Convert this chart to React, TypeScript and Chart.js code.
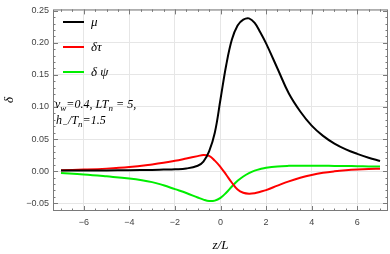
import React, { useEffect, useRef } from 'react';
import { Chart, registerables } from 'chart.js';
Chart.register(...registerables);

const zValues = [-7, -6, -5, -4, -3, -2.5, -2, -1.5, -1, -0.75, -0.5, -0.25, 0, 0.25, 0.5, 0.75, 1, 1.25, 1.5, 1.75, 2, 2.5, 3, 3.5, 4, 4.5, 5, 5.5, 6, 6.5, 7];
const muValues = [0.001, 0.001, 0.0012, 0.0015, 0.002, 0.0025, 0.003, 0.0042, 0.0085, 0.015, 0.031, 0.06, 0.112, 0.165, 0.205, 0.227, 0.236, 0.238, 0.231, 0.216, 0.199, 0.16, 0.121, 0.093, 0.071, 0.055, 0.043, 0.034, 0.027, 0.021, 0.016];
const tauValues = [0.0015, 0.0025, 0.004, 0.0065, 0.0105, 0.013, 0.0162, 0.0198, 0.0235, 0.0252, 0.0238, 0.0165, 0.0065, -0.0055, -0.018, -0.0285, -0.0335, -0.035, -0.0342, -0.032, -0.0295, -0.0225, -0.0158, -0.0102, -0.0058, -0.0025, -0.0002, 0.0015, 0.0027, 0.0035, 0.004];
const psiValues = [-0.003, -0.005, -0.008, -0.0115, -0.017, -0.022, -0.028, -0.034, -0.041, -0.0443, -0.0465, -0.0458, -0.0415, -0.0335, -0.0238, -0.015, -0.0082, -0.003, 0.0008, 0.0035, 0.0055, 0.0075, 0.0083, 0.0085, 0.0085, 0.0084, 0.0082, 0.008, 0.0078, 0.0075, 0.0073];

const seriesLabels = ['μ', 'δτ', 'δ ψ'];
const seriesColors = ['#000000', '#ff0000', '#00ee00'];

const xTickValues = [-6, -4, -2, 0, 2, 4, 6];
const yTickValues = [-0.05, 0, 0.05, 0.1, 0.15, 0.2, 0.25];
const xRange = [-7.35, 7.35];
const yRange = [-0.062, 0.252];
const xMinorStep = 0.5;
const yMinorStep = 0.01;

const SERIF_IT = 'italic 13px "Liberation Serif", "DejaVu Serif", serif';

function drawSubText(ctx: CanvasRenderingContext2D, parts: [string, boolean][], x: number, y: number) {
  let cx = x;
  for (const [t, sub] of parts) {
    ctx.font = sub ? 'italic 9px "Liberation Serif", serif' : 'italic 12px "Liberation Serif", serif';
    ctx.fillText(t, cx, sub ? y + 3 : y);
    cx += ctx.measureText(t).width;
  }
}

const framePlugin = {
  id: 'framePlugin',
  afterDraw(chart: any) {
    const ctx: CanvasRenderingContext2D = chart.ctx;
    const { left, right, top, bottom } = chart.chartArea;
    const xs = chart.scales.x;
    const ys = chart.scales.y;
    ctx.save();
    ctx.strokeStyle = '#7a7a7a';
    ctx.lineWidth = 1;
    ctx.strokeRect(left + 0.5, top + 0.5, right - left - 1, bottom - top - 1);
    ctx.beginPath();
    const xStart = Math.ceil(xRange[0] / xMinorStep) * xMinorStep;
    for (let v = xStart; v <= xRange[1] + 1e-9; v += xMinorStep) {
      const isMajor = xTickValues.some((t) => Math.abs(t - v) < 1e-6);
      const len = isMajor ? 5 : 2.5;
      const px = Math.round(xs.getPixelForValue(v)) + 0.5;
      ctx.moveTo(px, bottom);
      ctx.lineTo(px, bottom - len);
      ctx.moveTo(px, top);
      ctx.lineTo(px, top + len);
    }
    const yStart = Math.ceil(yRange[0] / yMinorStep) * yMinorStep;
    for (let v = yStart; v <= yRange[1] + 1e-9; v += yMinorStep) {
      const isMajor = yTickValues.some((t) => Math.abs(t - v) < 1e-6);
      const len = isMajor ? 5 : 2.5;
      const py = Math.round(ys.getPixelForValue(v)) + 0.5;
      ctx.moveTo(left, py);
      ctx.lineTo(left + len, py);
      ctx.moveTo(right, py);
      ctx.lineTo(right - len, py);
    }
    ctx.stroke();

    ctx.textBaseline = 'middle';
    ctx.textAlign = 'left';
    const legendY = [22, 47, 72];
    chart.data.datasets.forEach((ds: any, i: number) => {
      ctx.strokeStyle = ds.borderColor;
      ctx.lineWidth = 2;
      ctx.beginPath();
      ctx.moveTo(63, legendY[i]);
      ctx.lineTo(84, legendY[i]);
      ctx.stroke();
      ctx.fillStyle = '#000';
      ctx.font = SERIF_IT;
      ctx.fillText(ds.label, 91, legendY[i] + 1);
    });

    ctx.fillStyle = '#000';
    ctx.textBaseline = 'alphabetic';
    drawSubText(ctx, [['ν', false], ['w', true], ['=0.4, ', false], ['LT', false], ['n', true], [' = 5,', false]], 55, 108);
    drawSubText(ctx, [['h', false], ['−', true], ['/T', false], ['n', true], ['=1.5', false]], 56, 124);

    ctx.font = SERIF_IT;
    ctx.textAlign = 'center';
    ctx.textBaseline = 'middle';
    ctx.fillText('z/L', (left + right) / 2, 246);
    ctx.save();
    ctx.translate(10, 100);
    ctx.rotate(-Math.PI / 2);
    ctx.fillText('δ', 0, 0);
    ctx.restore();
    ctx.restore();
  },
};

export default function App() {
  const ref = useRef<HTMLCanvasElement | null>(null);
  useEffect(() => {
    document.body.style.margin = '0';
    if (!ref.current) return;
    const series = [muValues, tauValues, psiValues];
    const chart = new Chart(ref.current, {
      type: 'line',
      data: {
        datasets: series.map((vals, i) => ({
          label: seriesLabels[i],
          data: zValues.map((z, j) => ({ x: z, y: vals[j] })),
          borderColor: seriesColors[i],
          backgroundColor: seriesColors[i],
          borderWidth: 2,
          pointRadius: 0,
          tension: 0.4,
          fill: false,
        })),
      },
      options: {
        responsive: false,
        animation: false,
        layout: { padding: { left: 0, right: 2, top: 5, bottom: 0 } },
        plugins: { legend: { display: false }, tooltip: { enabled: false } },
        scales: {
          x: {
            type: 'linear',
            min: xRange[0],
            max: xRange[1],
            afterBuildTicks: (s: any) => { s.ticks = xTickValues.map((v) => ({ value: v })); },
            afterFit: (s: any) => { s.height = 43; },
            grid: { color: '#e6e6e6', drawTicks: false },
            border: { display: false },
            ticks: {
              padding: 6,
              color: '#444',
              font: { family: '"Liberation Sans", Arial, sans-serif', size: 9 },
              maxRotation: 0,
              callback: (v: any) => String(v).replace('-', '−'),
            },
          },
          y: {
            type: 'linear',
            min: yRange[0],
            max: yRange[1],
            afterBuildTicks: (s: any) => { s.ticks = yTickValues.map((v) => ({ value: v })); },
            afterFit: (s: any) => { s.width = 53; },
            grid: { color: '#e6e6e6', drawTicks: false },
            border: { display: false },
            ticks: {
              padding: 4,
              color: '#444',
              font: { family: '"Liberation Sans", Arial, sans-serif', size: 9 },
              callback: (v: any) => Number(v).toFixed(2).replace('-', '−'),
            },
          },
        },
      },
      plugins: [framePlugin],
    });
    return () => chart.destroy();
  }, []);
  return (
    <div style={{ width: 390, height: 254 }}>
      <canvas ref={ref} width={390} height={254} style={{ display: 'block' }} />
    </div>
  );
}
